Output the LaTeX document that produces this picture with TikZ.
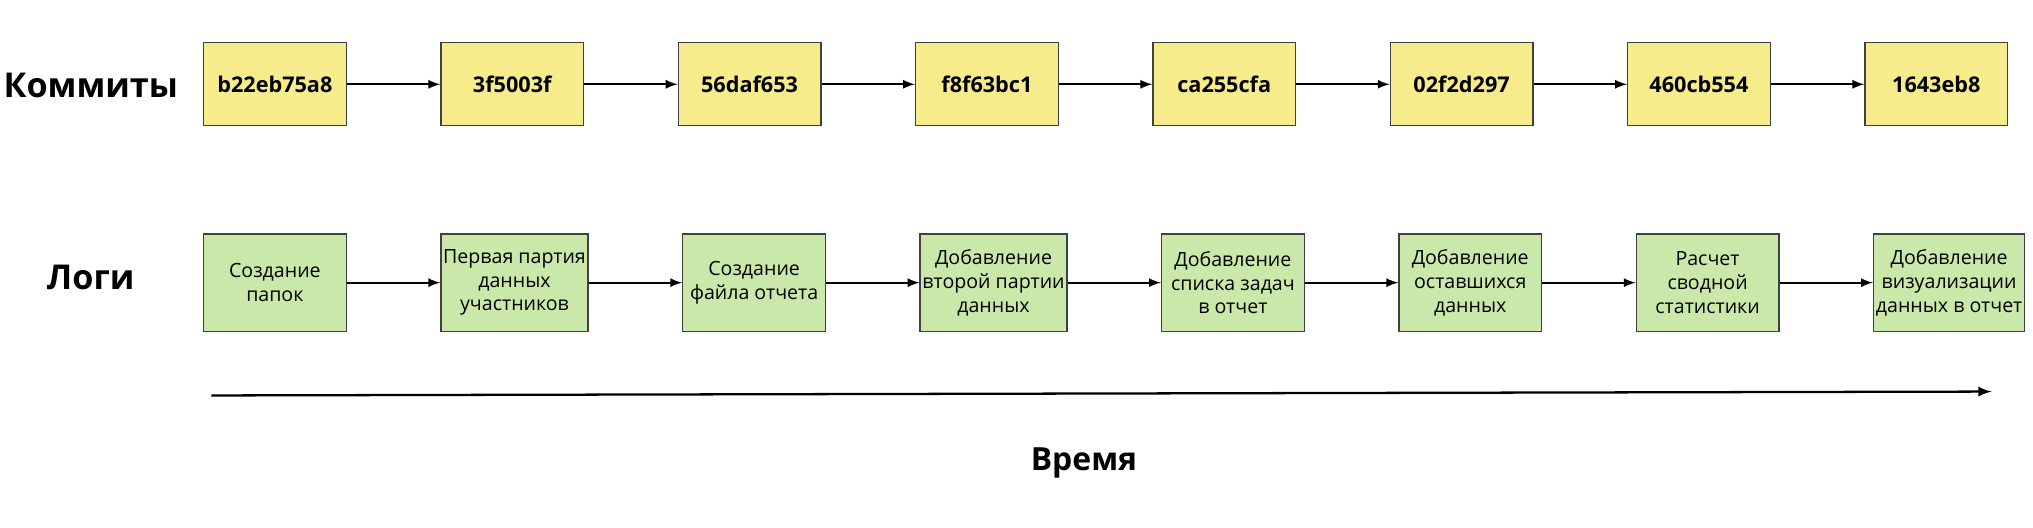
\documentclass[tikz,border=0pt]{standalone}
\usepackage{fontspec}
\setmainfont{Open Sans}
\usetikzlibrary{positioning}
\definecolor{commitfill}{HTML}{F7EC8C}
\definecolor{logfill}{HTML}{C9E8A9}
\tikzset{
  box/.style={draw=black!75, line width=0.6pt, minimum width=2.2cm, align=center, inner sep=1pt},
  commit/.style={box, fill=commitfill, minimum height=1.28cm, font=\fontsize{9.5}{11}\selectfont\bfseries},
  logbox/.style={box, fill=logfill, minimum height=1.5cm, font=\fontsize{8.6}{10.4}\selectfont},
  link/.style={-latex, line width=0.8pt},
  rowlabel/.style={font=\fontsize{15}{18}\selectfont\bfseries}
}
\begin{document}
\begin{tikzpicture}[node distance=1.44cm]
  \useasboundingbox (0,0) rectangle (31.36,-8.14);

  % Commit row
  \node[commit] (c1) at (4.24,-1.3) {b22eb75a8};
  \node[commit, right=of c1] (c2) {3f5003f};
  \node[commit, right=of c2] (c3) {56daf653};
  \node[commit, right=of c3] (c4) {f8f63bc1};
  \node[commit, right=of c4] (c5) {ca255cfa};
  \node[commit, right=of c5] (c6) {02f2d297};
  \node[commit, right=of c6] (c7) {460cb554};
  \node[commit, right=of c7] (c8) {1643eb8};

  % Log row
  \node[logbox] (l1) at (4.24,-4.36) {Создание\\папок};
  \node[logbox, right=of l1] (l2) {Первая партия\\данных\\участников};
  \node[logbox, right=of l2] (l3) {Создание\\файла отчета};
  \node[logbox, right=of l3] (l4) {Добавление\\второй партии\\данных};
  \node[logbox, right=of l4] (l5) {Добавление\\списка задач\\в отчет};
  \node[logbox, right=of l5] (l6) {Добавление\\оставшихся\\данных};
  \node[logbox, right=of l6] (l7) {Расчет\\сводной\\статистики};
  \node[logbox, right=of l7] (l8) {Добавление\\визуализации\\данных в отчет};

  \foreach \i/\j in {1/2,2/3,3/4,4/5,5/6,6/7,7/8} {
    \draw[link] (c\i) -- (c\j);
    \draw[link] (l\i) -- (l\j);
  }

  % Row labels
  \node[rowlabel] (commits) at (1.4,-1.32) {Коммиты};
  \node[rowlabel] (logs) at (1.4,-4.28) {Логи};

  % Time axis
  \coordinate (tstart) at (3.26,-6.1);
  \coordinate (tend) at (30.72,-6.04);
  \draw[link, line width=1pt] (tstart) -- (tend);
  \node[rowlabel, font=\fontsize{14}{17}\selectfont\bfseries] (time) at (16.72,-7.14) {Время};
\end{tikzpicture}
\end{document}
